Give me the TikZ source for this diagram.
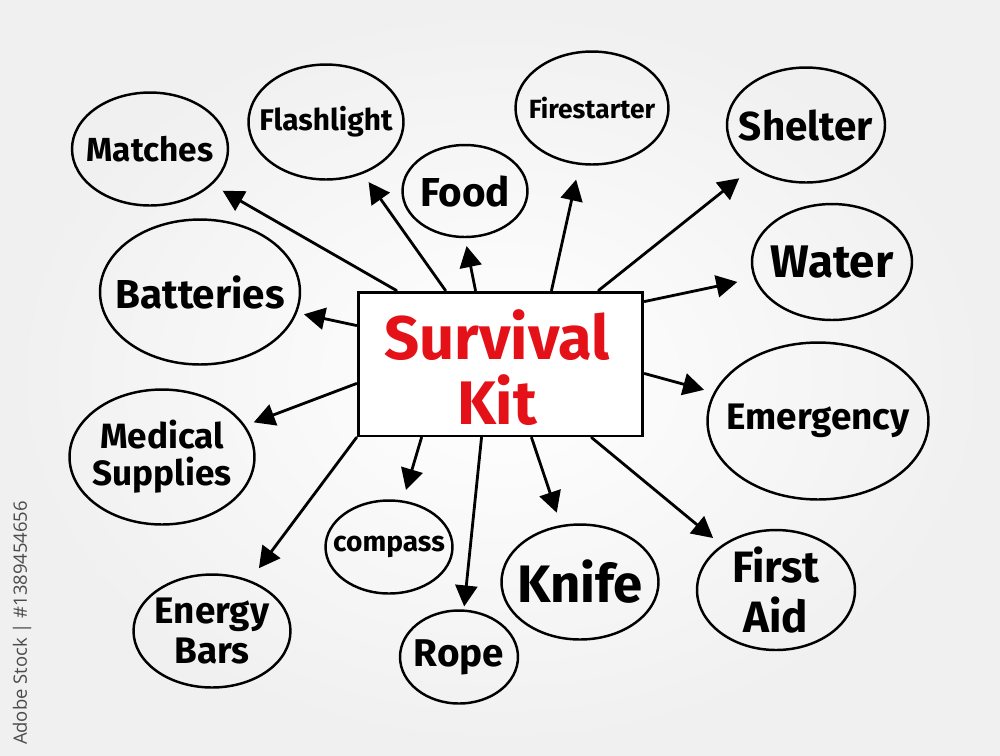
\documentclass[tikz,border=0pt]{standalone}
\usepackage{fontspec}
\setmainfont{Fira Sans}
\newfontfamily\wmfont{Open Sans}
\usetikzlibrary{arrows.meta,shapes.geometric}
\definecolor{kitred}{RGB}{228,18,24}
\definecolor{wmgray}{RGB}{75,75,75}
\begin{document}
\begin{tikzpicture}[x=0.02cm,y=-0.02cm,
  bub/.style={draw=black, line width=1.4pt, ellipse, inner sep=0pt},
  lbl/.style={align=center, text=black},
  link/.style={line width=1.6pt, line cap=round, -{Triangle[length=0.42cm,width=0.44cm]}},
]
\useasboundingbox (0,0) rectangle (1000,755);
\shade[inner color=white, outer color=black!6] (0,0) rectangle (1000,755);

% watermark id
\node[font=\wmfont\fontsize{10.5}{12}\selectfont, text=wmgray, rotate=90] (wm) at (22,623) {Adobe Stock | \#1389454656};

% central box
\node[draw=black, line width=1.7pt, fill=white, minimum width=5.7cm, minimum height=2.88cm, inner sep=0pt] (kit) at (500.5,364) {};
\node[lbl, text=kitred, font=\bfseries\fontsize{35}{37}\selectfont] (kitlbl) at (497,368) {Survival\\Kit};

% bubbles
\node[bub, minimum width=3.12cm, minimum height=2.26cm] (matches) at (150,149) {};
\node[bub, minimum width=3.10cm, minimum height=2.30cm] (flash) at (326,122) {};
\node[bub, minimum width=2.50cm, minimum height=1.84cm] (food) at (465,191) {};
\node[bub, minimum width=3.06cm, minimum height=2.26cm] (fire) at (592,108) {};
\node[bub, minimum width=3.16cm, minimum height=2.30cm] (shelter) at (806,125) {};
\node[bub, minimum width=3.20cm, minimum height=2.32cm] (water) at (832,262) {};
\node[bub, minimum width=4.00cm, minimum height=2.90cm] (batt) at (200,292) {};
\node[bub, minimum width=4.42cm, minimum height=3.14cm] (emerg) at (818,421) {};
\node[bub, minimum width=3.70cm, minimum height=2.70cm] (med) at (162,457) {};
\node[bub, minimum width=2.54cm, minimum height=1.86cm] (compass) at (389,547) {};
\node[bub, minimum width=3.14cm, minimum height=2.30cm] (knife) at (580,582) {};
\node[bub, minimum width=3.16cm, minimum height=2.40cm] (aid) at (776,590) {};
\node[bub, minimum width=3.14cm, minimum height=2.26cm] (energy) at (212,631) {};
\node[bub, minimum width=2.36cm, minimum height=1.86cm] (rope) at (459,657) {};

% labels
\node[lbl, font=\bfseries\fontsize{19}{20}\selectfont] at (matches) {Matches};
\node[lbl, font=\bfseries\fontsize{17}{18}\selectfont] at (flash) {Flashlight};
\node[lbl, font=\bfseries\fontsize{23}{24}\selectfont] at (food) {Food};
\node[lbl, font=\bfseries\fontsize{15}{16}\selectfont] at (fire) {Firestarter};
\node[lbl, font=\bfseries\fontsize{23}{24}\selectfont] at (shelter) {Shelter};
\node[lbl, font=\bfseries\fontsize{26}{27}\selectfont] at (water) {Water};
\node[lbl, font=\bfseries\fontsize{23}{24}\selectfont] at (batt) {Batteries};
\node[lbl, font=\bfseries\fontsize{21}{22}\selectfont] at (emerg) {Emergency};
\node[lbl, font=\bfseries\fontsize{20}{21}\selectfont] at (med) {Medical\\Supplies};
\node[lbl, font=\bfseries\fontsize{16}{17}\selectfont] at (compass) {compass};
\node[lbl, font=\bfseries\fontsize{30}{31}\selectfont] at (knife) {Knife};
\node[lbl, font=\bfseries\fontsize{25}{28}\selectfont] at (aid) {First\\Aid};
\node[lbl, font=\bfseries\fontsize{21}{23}\selectfont] at (energy) {Energy\\Bars};
\node[lbl, font=\bfseries\fontsize{22}{23}\selectfont] at (rope) {Rope};

% connectors
\draw[link, shorten >=0.24cm] ([xshift=0.80cm]kit.north west) -- (matches);
\draw[link, shorten >=0.20cm] ([xshift=1.78cm]kit.north west) -- (flash);
\draw[link, shorten >=0.16cm] ([xshift=2.38cm]kit.north west) -- (food.south);
\draw[link, shorten >=0.30cm] ([xshift=3.90cm]kit.north west) -- (fire);
\draw[link, shorten >=0.32cm] ([xshift=4.84cm]kit.north west) -- (shelter);
\draw[link, shorten >=0.34cm] ([yshift=-0.22cm]kit.north east) -- (water);
\draw[link, shorten >=0.20cm] ([yshift=-1.66cm]kit.north east) -- (emerg);
\draw[link, shorten >=0.14cm] ([yshift=-0.70cm]kit.north west) -- (batt);
\draw[link, shorten >=0.18cm] ([yshift=-1.86cm]kit.north west) -- (med);
\draw[link, shorten >=0.30cm] (kit.south west) -- (energy);
\draw[link, shorten >=0.22cm] ([xshift=1.30cm]kit.south west) -- (compass);
\draw[link, shorten >=0.06cm] ([xshift=2.50cm]kit.south west) -- (rope);
\draw[link, shorten >=0.26cm] ([xshift=3.50cm]kit.south west) -- (knife);
\draw[link, shorten >=0.22cm] ([xshift=4.70cm]kit.south west) -- (aid);
\end{tikzpicture}
\end{document}
